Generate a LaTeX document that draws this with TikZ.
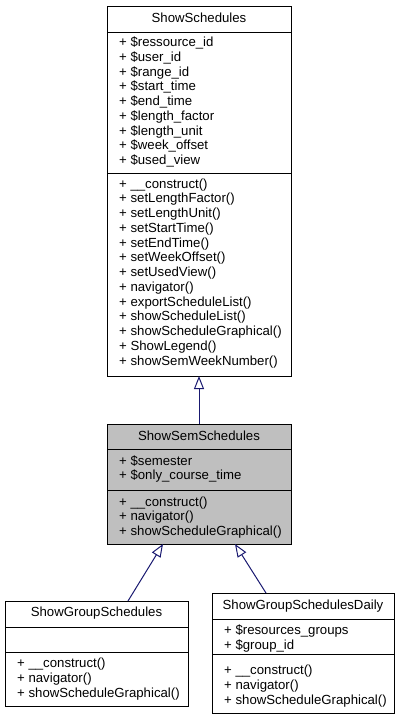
\documentclass[tikz,border=0pt]{standalone}
\usepackage{fontspec}
\setmainfont{Liberation Sans}
\usetikzlibrary{arrows.meta,calc}
\definecolor{edgeblue}{HTML}{191970}
\definecolor{semfill}{HTML}{BFBFBF}
\begin{document}
\begin{tikzpicture}[x=1pt,y=-1pt,
  classbox/.style={draw=black, line width=1pt, inner sep=0pt, outer sep=0pt, anchor=north west},
  member/.style={anchor=base west, inner sep=0pt, font=\fontsize{13.2}{14.75}\selectfont},
  ctitle/.style={anchor=base, inner sep=0pt, font=\fontsize{13.2}{14.75}\selectfont},
  sepline/.style={draw=black, line width=1pt},
  inherit/.style={draw=edgeblue, line width=1pt, -{Triangle[open, width=10pt, length=13pt]}}]
\useasboundingbox (0,0) rectangle (400,720);

% ShowSchedules
\node[classbox, minimum width=184pt, minimum height=370pt] (A) at (107,6) {};
\draw[sepline] (107,32) -- (291,32);
\draw[sepline] (107,173) -- (291,173);
\node[ctitle] (At) at (199,22.7) {ShowSchedules};
\foreach \t [count=\i] in {\$ressource\_id,\$user\_id,\$range\_id,\$start\_time,\$end\_time,\$length\_factor,\$length\_unit,\$week\_offset,\$used\_view}
  \node[member] (Aa\i) at (119,{46.5+(\i-1)*14.75}) {+ \t};
\foreach \t [count=\i] in {\_\_construct(),setLengthFactor(),setLengthUnit(),setStartTime(),setEndTime(),setWeekOffset(),setUsedView(),navigator(),exportScheduleList(),showScheduleList(),showScheduleGraphical(),ShowLegend(),showSemWeekNumber()}
  \node[member] (Am\i) at (119,{188+(\i-1)*14.75}) {+ \t};

% ShowSemSchedules
\node[classbox, fill=semfill, minimum width=184pt, minimum height=120pt] (B) at (107,424) {};
\draw[sepline] (107,449) -- (291,449);
\draw[sepline] (107,490) -- (291,490);
\node[ctitle] (Bt) at (199,440.5) {ShowSemSchedules};
\node[member] (Ba1) at (119,465) {+ \$semester};
\node[member] (Ba2) at (119,479.75) {+ \$only\_course\_time};
\node[member] (Bm1) at (119,506) {+ \_\_construct()};
\node[member] (Bm2) at (119,520.75) {+ navigator()};
\node[member] (Bm3) at (119,535.5) {+ showScheduleGraphical()};

% ShowGroupSchedules
\node[classbox, minimum width=183pt, minimum height=105pt] (C) at (5,601) {};
\draw[sepline] (5,627) -- (188,627);
\draw[sepline] (5,652) -- (188,652);
\node[ctitle] (Ct) at (96.5,616.5) {ShowGroupSchedules};
\node[member] (Cm1) at (17,667.5) {+ \_\_construct()};
\node[member] (Cm2) at (17,682.25) {+ navigator()};
\node[member] (Cm3) at (17,697) {+ showScheduleGraphical()};

% ShowGroupSchedulesDaily
\node[classbox, minimum width=182pt, minimum height=120pt] (D) at (212,593) {};
\draw[sepline] (212,619) -- (394,619);
\draw[sepline] (212,654) -- (394,654);
\node[ctitle] (Dt) at (303,609.5) {ShowGroupSchedulesDaily};
\node[member] (Da1) at (224,634.5) {+ \$resources\_groups};
\node[member] (Da2) at (224,649.25) {+ \$group\_id};
\node[member] (Dm1) at (224,674.5) {+ \_\_construct()};
\node[member] (Dm2) at (224,689.25) {+ navigator()};
\node[member] (Dm3) at (224,704) {+ showScheduleGraphical()};

% inheritance
\draw[inherit] (B.north) -- (A.south);
\draw[inherit] ([xshift=31.5pt]C.north) -- ([xshift=-36pt]B.south);
\draw[inherit] ([xshift=-37pt]D.north) -- ([xshift=36pt]B.south);
\end{tikzpicture}
\end{document}
